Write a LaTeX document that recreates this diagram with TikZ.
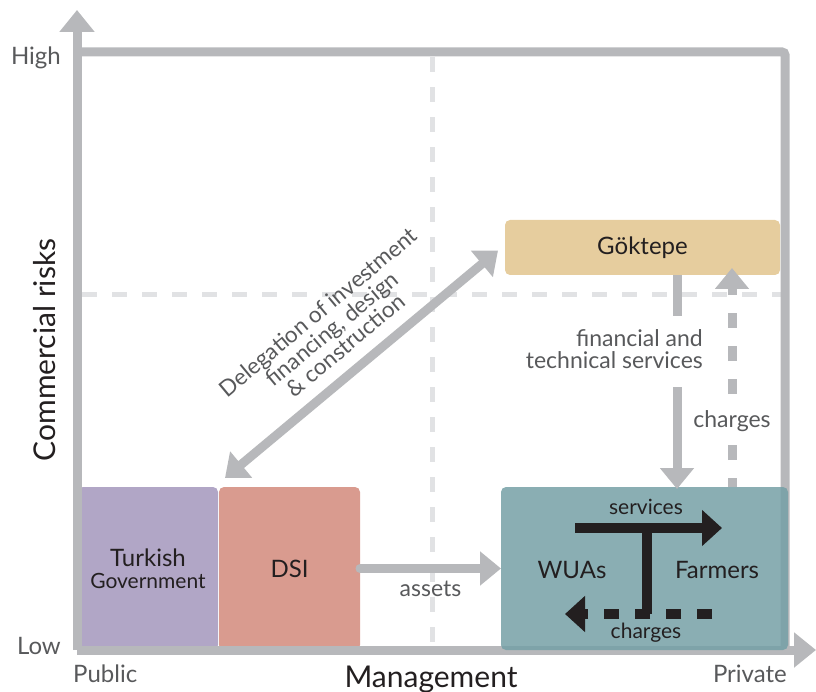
\documentclass[tikz,border=0pt]{standalone}
\usepackage{fontspec}
\setmainfont{Lato}
\usepackage{xcolor}
\usepackage{tikz}
\usetikzlibrary{arrows.meta}

\definecolor{axisgray}{RGB}{183,184,187}
\definecolor{dashgray}{RGB}{225,226,228}
\definecolor{labelgray}{RGB}{88,89,91}
\definecolor{inkblack}{RGB}{35,31,32}
\definecolor{govpurple}{RGB}{177,166,198}
\definecolor{dsisalmon}{RGB}{217,155,143}
\definecolor{goksand}{RGB}{230,205,158}
\definecolor{wuateal}{RGB}{117,160,166}

\begin{document}
\begin{tikzpicture}[x=1pt,y=-1pt,
  axis/.style={draw=axisgray,line width=9pt},
  axisarrow/.style={axis,-{Triangle[length=22pt,width=34pt]}},
  griddash/.style={draw=dashgray,line width=5pt,dash pattern=on 15pt off 15pt},
  actor/.style={anchor=north west,rounded corners=5pt,inner sep=0pt,outer sep=0pt,text=inkblack,align=center,font=\fontsize{24}{22}\selectfont},
  gbar/.style={draw=axisgray,line width=9pt},
  garrow/.style={gbar,-{Triangle[length=21pt,width=33pt]}},
  barrow/.style={draw=inkblack,line width=10pt,-{Triangle[length=20pt,width=35pt]}},
  note/.style={text=labelgray,font=\fontsize{23}{22}\selectfont,inner sep=0pt},
  axislabel/.style={text=labelgray,font=\fontsize{24}{23}\selectfont,inner sep=0pt},
  axistitle/.style={text=inkblack,font=\fontsize{30}{30}\selectfont,inner sep=0pt}]
\useasboundingbox (0,0) rectangle (816,692);

% quadrant lines
\draw[griddash] (432,57) -- (432,646);
\draw[griddash] (82,295) -- (781,295);

% public actors
\node[actor,fill=govpurple,minimum width=140pt,minimum height=163pt] (gov) at (78,487)
  {Turkish\\\fontsize{21}{22}\selectfont Government};
\node[actor,fill=dsisalmon,minimum width=141pt,minimum height=163pt] (dsi) at (219,487) {DSI};

% axes and frame
\coordinate (origin) at (77,650);
\coordinate (ytip) at (77,10);
\coordinate (xtip) at (816,650);
\draw[axis,rounded corners=3pt] (77,52) -- (785,52) -- (785,650);
\draw[axisarrow] (origin) -- (ytip);
\draw[axisarrow] (origin) -- (xtip);

% private actors
\node[actor,fill=goksand,minimum width=275pt,minimum height=55pt] (gok) at (505,220) {Göktepe};
\node[actor,fill=wuateal,fill opacity=0.85,minimum width=287pt,minimum height=163pt] (wua) at (501,487) {};

\draw[gbar,{Triangle[length=21pt,width=33pt]}-{Triangle[length=21pt,width=33pt]}]
  ([xshift=6pt,yshift=9pt]dsi.north west) -- ([xshift=-7pt,yshift=-3pt]gok.west)
  node[midway,sloped,above=12pt,text=labelgray,align=center,inner sep=0pt,font=\fontsize{22.5}{20.5}\selectfont]
  {Delegation of investment\\financing, design\\\& construction};

\draw[garrow,line cap=round] (dsi.east) -- (wua.west) node[midway,below=8pt,note] {assets};

\node[note,anchor=east,align=right] (fts) at (703,349) {financial and\\technical services};
\coordinate (ftop) at (677,316);
\coordinate (fbot) at (677,387);
\draw[gbar] (gok.south -| ftop) -- (ftop);
\draw[garrow] (fbot) -- ([yshift=-2pt]wua.north -| fbot);

\coordinate (cx) at (732,0);
\draw[garrow,dash pattern=on 15pt off 18pt,dash phase=6pt] (wua.north -| cx) -- ([yshift=7pt]gok.south -| cx)
  node[pos=0.3,note,fill=white,inner sep=3pt] {charges};

% inside the WUA box
\node[text=inkblack,font=\fontsize{24}{24}\selectfont] (wuas) at (572,570) {WUAs};
\node[text=inkblack,font=\fontsize{24}{24}\selectfont] (farmers) at (717,570) {Farmers};
\coordinate (sv0) at (575,528);
\coordinate (sv1) at (722,528);
\coordinate (ch0) at (712,614);
\coordinate (ch1) at (565,614);
\coordinate (stem) at (647,528);
\draw[barrow] (sv0) -- (sv1);
\draw[draw=inkblack,line width=10pt] (stem) -- (stem |- ch0);
\draw[barrow,dash pattern=on 15pt off 16pt] (ch0) -- (ch1);
\node[text=inkblack,font=\fontsize{21}{21}\selectfont] (svlabel) at (646,507) {services};
\node[text=inkblack,font=\fontsize{21}{21}\selectfont] (chlabel) at (646,633) {charges};

% axis labels
\node[axislabel,anchor=base east] (high) at (61,65) {High};
\node[axislabel,anchor=base east] (low) at (61,654) {Low};
\node[axislabel,anchor=base west] (public) at (73,682) {Public};
\node[axislabel,anchor=base east] (private) at (787,682) {Private};
\node[axistitle,anchor=base] (mgmt) at (431,687) {Management};
\node[axistitle,rotate=90] (risk) at (45,350) {Commercial risks};
\end{tikzpicture}
\end{document}
